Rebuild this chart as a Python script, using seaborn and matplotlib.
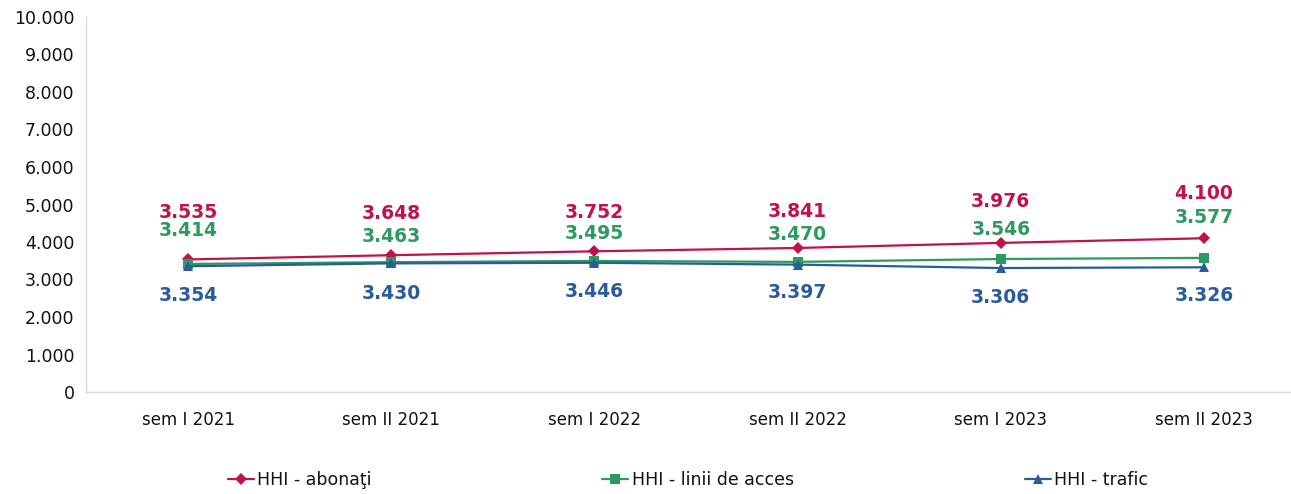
import pandas as pd
import matplotlib.pyplot as plt
import seaborn as sns
from matplotlib.ticker import FuncFormatter

periods = ["sem I 2021", "sem II 2021", "sem I 2022", "sem II 2022", "sem I 2023", "sem II 2023"]
hhi_abonati = [3535, 3648, 3752, 3841, 3976, 4100]
hhi_linii = [3414, 3463, 3495, 3470, 3546, 3577]
hhi_trafic = [3354, 3430, 3446, 3397, 3306, 3326]

series_names = ["HHI - abonaţi", "HHI - linii de acces", "HHI - trafic"]
colors = ["#C0124B", "#2E9960", "#2A5C9B"]
markers = ["D", "s", "^"]
marker_sizes = [6, 7, 7.5]
# label offsets (pixels above(+)/below(-) the marker), as placed in the original chart
label_offsets_px = [
    [47, 42, 39, 36, 41, 45],
    [33, 26, 27, 27, 30, 40],
    [-29, -30, -29, -28, -29, -28],
]

df = pd.concat([
    pd.DataFrame({"perioada": periods, "valoare": vals, "serie": name})
    for name, vals in zip(series_names, [hhi_abonati, hhi_linii, hhi_trafic])
], ignore_index=True)

sns.set_style("white")
plt.rcParams['font.family'] = ['DejaVu Sans']
plt.rcParams['text.color'] = '#111111'
plt.rcParams['xtick.color'] = '#111111'
plt.rcParams['ytick.color'] = '#111111'

fig = plt.figure(figsize=(12.91, 4.94), dpi=100)
ax = fig.add_axes([86.4 / 1291, 102 / 494, 1219.2 / 1291, 375 / 494])

sns.lineplot(data=df, x="perioada", y="valoare", hue="serie", style="serie",
             palette=colors, markers=markers, dashes=False, linewidth=1.6,
             markersize=7, markeredgewidth=0, ax=ax, legend=True)

for line, ms in zip(ax.get_lines()[:3], marker_sizes):
    line.set_markersize(ms)

for name, color, offs in zip(series_names, colors, label_offsets_px):
    sub = df[df["serie"] == name].reset_index(drop=True)
    for i, v in enumerate(sub["valoare"]):
        ax.annotate(f"{v/1000:.3f}", (i, v), xytext=(0, offs[i] * 0.72), textcoords="offset points",
                    ha="center", va="center", color=color, fontsize=13.5, fontweight="bold")

ax.set_xlim(-0.5, 5.5)
ax.set_ylim(0, 10000)
ax.set_yticks(range(0, 10001, 1000))
ax.yaxis.set_major_formatter(FuncFormatter(lambda v, p: "0" if v == 0 else f"{v/1000:.3f}"))
ax.set_xticks(range(6))
ax.set_xticks([i + 0.5 for i in range(-1, 6)], minor=True)
ax.tick_params(axis="x", which="major", length=0, labelsize=12, pad=14)
ax.tick_params(axis="x", which="minor", length=5, color="#D9D9D9", direction="out")
ax.tick_params(axis="y", length=5, color="#D9D9D9", labelcolor="#111111", direction="out", labelsize=12.5)
ax.set_xlabel("")
ax.set_ylabel("")
for s in ["top", "right"]:
    ax.spines[s].set_visible(False)
for s in ["left", "bottom"]:
    ax.spines[s].set_color("#D9D9D9")
    ax.spines[s].set_linewidth(1)

handles, labels = ax.get_legend_handles_labels()
for h, ms in zip(handles, marker_sizes):
    h.set_markersize(ms)
ax.get_legend().remove()
fig.legend(handles, labels, loc="center", bbox_to_anchor=(688 / 1291, 14 / 494), ncol=3,
           frameon=False, fontsize=12.5, handlelength=1.5, handletextpad=0.2,
           columnspacing=13.3)

fig.savefig("out.png", dpi=100)
